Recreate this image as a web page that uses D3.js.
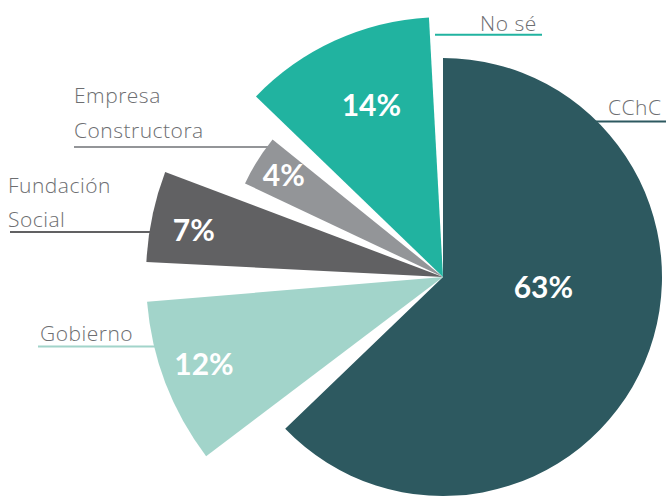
<!DOCTYPE html>
<html>
<head>
<meta charset="utf-8">
<script src="https://cdn.jsdelivr.net/npm/d3@7"></script>
<style>
  html, body { margin: 0; padding: 0; background: #ffffff; }
  svg { display: block; }
</style>
</head>
<body>
<svg id="chart" width="666" height="496"></svg>
<script>
// ---- data ----
const categories = ["CChC", "Gobierno", "Fundación Social", "Empresa Constructora", "No sé"];
const values = [63, 12, 7, 4, 14];
const labelLines = [["CChC"], ["Gobierno"], ["Fundación", "Social"], ["Empresa", "Constructora"], ["No sé"]];

// ---- styling / layout ----
const colors = ["#2d5960", "#a2d4ca", "#616163", "#939598", "#21b3a0"];
const outerR = [219, 297, 297, 219, 260];
const insetDeg = [[0, 0.7], [6.1, 4.8], [2.9, 4.5], [0.1, 0.7], [4.4, 3.1]];
const pctPos = [{a: 95, f: 0.46}, {a: 250.3, f: 0.855}, {a: 281, f: 0.855}, {a: 302.8, f: 0.865}, {a: 337.5, f: 0.72}];
const textLayout = [
  {x: 608, y: 115, lineY: 121.5, x0: 666, side: "right"},
  {x: 40, y: 341, lineY: 346.5, x0: 38, side: "left"},
  {x: 8, y: 193, lineY: 232, x0: 10, side: "left", lh: 34},
  {x: 74, y: 103, lineY: 147, x0: 74, side: "left", lh: 35},
  {x: 480, y: 31, lineY: 34.7, x0: 542, side: "top"}
];
const cx = 443, cy = 277;

const svg = d3.select("#chart");
const rad = d => d * Math.PI / 180;

const pie = d3.pie().sort(null).value(d => d.v).startAngle(0).endAngle(2 * Math.PI);
const arcs = pie(values.map((v, i) => ({v, i})));

const g = svg.append("g").attr("transform", `translate(${cx},${cy})`);

// leader lines (drawn under slices)
arcs.forEach((a, i) => {
  const L = textLayout[i];
  const dy = L.lineY - cy;
  const R = outerR[i];
  let xEdge;
  if (L.side === "top") {
    xEdge = cx - 8;
  } else if (L.side === "right") {
    xEdge = cx + Math.sqrt(R * R - dy * dy) - 3;
  } else {
    xEdge = cx - Math.sqrt(R * R - dy * dy) + 3;
  }
  svg.insert("line", "g")
    .attr("x1", L.x0).attr("x2", xEdge)
    .attr("y1", L.lineY).attr("y2", L.lineY)
    .attr("stroke", colors[i])
    .attr("stroke-width", 2);
});

// slices
const arcGen = d3.arc().innerRadius(0);
g.selectAll("path.slice")
  .data(arcs)
  .join("path")
  .attr("class", "slice")
  .attr("fill", d => colors[d.data.i])
  .attr("d", d => arcGen({
    startAngle: d.startAngle + rad(insetDeg[d.data.i][0]),
    endAngle: d.endAngle - rad(insetDeg[d.data.i][1]),
    outerRadius: outerR[d.data.i]
  }));

// percentage labels
g.selectAll("text.pct")
  .data(arcs)
  .join("text")
  .attr("class", "pct")
  .attr("x", d => Math.sin(rad(pctPos[d.data.i].a)) * outerR[d.data.i] * pctPos[d.data.i].f)
  .attr("y", d => -Math.cos(rad(pctPos[d.data.i].a)) * outerR[d.data.i] * pctPos[d.data.i].f)
  .attr("text-anchor", "middle")
  .attr("dominant-baseline", "central")
  .attr("fill", "#ffffff")
  .attr("font-family", "Lato, 'Open Sans', sans-serif")
  .attr("font-weight", 700)
  .attr("font-size", 30)
  .text(d => d.data.v + "%");

// category labels
arcs.forEach((a, i) => {
  const L = textLayout[i];
  const t = svg.append("text")
    .attr("x", L.x).attr("y", L.y)
    .attr("fill", "#6d6e71")
    .attr("font-family", "'Open Sans', sans-serif")
    .attr("font-weight", 300)
    .attr("font-size", 21)
    .attr("letter-spacing", 0.5);
  labelLines[i].forEach((s, k) => {
    t.append("tspan").attr("x", L.x).attr("y", L.y + k * (L.lh || 0)).text(s);
  });
});
</script>
</body>
</html>
